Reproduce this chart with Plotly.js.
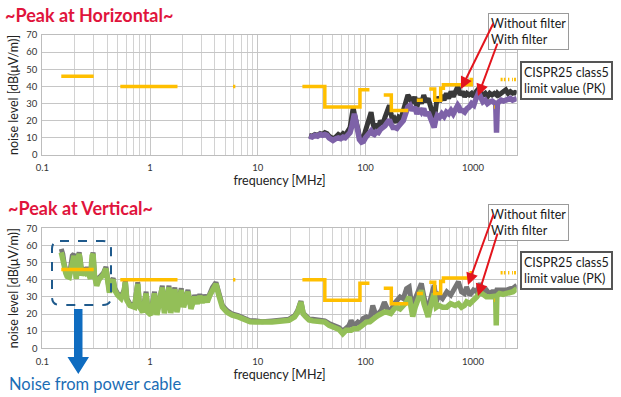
<!DOCTYPE html>
<html><head><meta charset="utf-8">
<script src="https://cdn.plot.ly/plotly-3.0.1.min.js"></script>
<style>html,body{margin:0;padding:0;background:#fff}#chart{width:621px;height:397px}</style>
</head><body><div id="chart"></div><script>
// ---- data ----
const xTickVals = [0.1, 1, 10, 100, 1000];
const xTickText = ['0.1', '1', '10', '100', '1000'];
const yTickVals = [0, 10, 20, 30, 40, 50, 60, 70];

// Horizontal polarization
const topFreq = [30,32,34,36,38,40,42,44,46,48,50,53,56,59,62,65,68,72,75,77,79,82,85,88,92,96,100,105,110,113,117,121,126,132,138,145,152,160,167,173,180,188,196,204,214,225,236,248,260,273,287,301,316,332,348,365,383,402,422,435,448,465,488,512,538,565,593,623,654,687,721,740,757,795,835,877,921,967,1015,1066,1119,1150,1175,1234,1296,1360,1428,1500,1575,1620,1650,1680,1737,1824,1915,2011,2111,2217,2328,2444,2550];
const topWithout = [11.5,11,12,11.5,12.5,12,13,12.5,11,10,9.5,10.5,12,11,12.5,11.5,13,16,23,27.5,24,18,14,11,9,10,14,18,22,25,19,15,18,16,20,18,22,26,29,24,19,21,19,22,21,26,30,35,33,30,34,28,33,30,35,31,33,29,24,20,27,34,31,35,32,36,33,37,34,37,40,38,35,37,34,36,35,36,34,37,38.5,37,36,35,36,34,36,35,36,35,35,36,35,36,37,38,36,37,36,36.5,36];
const topWith = [11,10.5,11.5,11,12,11.5,12,11.5,10,9,8.5,9.5,10,9.5,10.5,10,11,13,17,22,24,19,13,9,7.5,8,10,12,13,14,12.5,12,13.5,13,15,16,17,19,20.5,18,16,16,15.5,17,18,20,24,28,29,26,28,24,27,25,27,23,25,21,18,16,20,23,22,24,22.5,25,24,26,24,27,29,28,26,26,25,27,28,30,29,33,36,35,33,31,32,30,31,31.5,30.5,31,13,30,31,32,31.5,32,32.5,33,32,33,33];

// Vertical polarization
const botFreq = [0.15,0.155,0.16,0.165,0.17,0.178,0.185,0.19,0.197,0.203,0.207,0.212,0.22,0.226,0.232,0.24,0.25,0.26,0.27,0.28,0.29,0.296,0.305,0.32,0.335,0.35,0.37,0.39,0.405,0.42,0.44,0.455,0.47,0.5,0.54,0.575,0.59,0.61,0.65,0.72,0.77,0.8,0.86,0.92,0.96,1.02,1.1,1.16,1.3,1.36,1.5,1.56,1.7,1.78,1.95,2.05,2.25,2.4,2.6,2.75,2.9,3.05,3.2,3.4,3.6,3.8,4.1,4.35,4.7,5.2,5.8,6.6,7.5,8.5,9.5,11,13.6,16,19.5,22,23.5,25.2,26.5,28,30,32.5,37,42,46,52,57,61.6,66,70,73.7,78,85,90,95,102,110,117,124,132,140,150,160,172,185,194,210,225,241,255,266,275,290,310,331,350,370,383,400,420,435,455,480,520,570,620,680,730,780,830,870,930,1008,1080,1160,1250,1330,1410,1500,1580,1620,1640,1660,1760,1900,2040,2200,2350,2550];
const botWithout = [58,55,49,45,43,42,48,54,55,47,41,52,56,51,43,46,45,47,45,41,55,56,43,37,41,42,44,47.5,42,33,39,41,35,32,30,34,39.5,29,26,25,38.5,25,22,33,22,20.5,33,20.5,36.5,21.5,36.5,21.5,35.5,22,35,25,34,24,31,27,31.5,27.5,31,28,32,35.5,38.5,32,25,22,20,19,17.5,16,16,15.5,16,16.5,17,19,22,27.5,20.5,19,17,17,16.5,16,14.5,13,12,10,12,13,16.3,13,15.3,14,17.3,18.3,17,25,20,20.3,22,27,23,22,26,28,30,29,34.8,35.8,27,21,29,33,37.8,30,24,19.5,28,34,36.8,27,31,29,33,31,35,38.8,33,32,35.8,31,34,33,37.8,33,34,32,33,33,33,33,34,34,33.5,34,34.8,35,36.8];
const botWith = [56,53,48,44,42,41.5,47,53,54,46,40.5,51,55,50,42.5,45,44,46,44,40.5,54,55,42.5,36.5,40,41.5,43,46.5,41,32.5,38.5,40,34,31,29,33,38.5,28,25,24,37.5,24,21,32,21,19.5,32,19.5,35.5,20.5,35.5,20.5,34.5,21,34,24,33,23,30,26,30.5,26.5,30,27,31,34.5,37.5,31,24,21,19.3,18.3,16.5,15.5,15.3,15,15.3,15.8,16.3,18.3,21,27,20,18.3,16.5,16,15.5,15.3,13.4,12,11,8.5,10.5,10.5,10.5,11.4,11.5,12.5,13.4,15.3,15.5,17.3,18,19.3,20,21.2,21,20.3,23,24,23,25,27,30,22,18.5,24,30,33.8,26,20,18.3,24,30,32,24,25,24,24,26,25,26,24,25,27,26,28,30,32.8,31,30,30,30.5,31,30.5,13.4,30.5,32,31.5,32,32.8,33,34.8];

// CISPR25 class5 peak limit (gaps = null)
const limitFreq = [0.15,0.3,null,0.53,1.8,null,5.9,6.2,null,26,42,42,89,89,109,null,148,174,174,250,null,300,342,null,392,440,440,500,500,530,530,960,960,1000,null,1560,1590,null,1800,1880,null,1930,2000,null,2110,2170,null,2300,2345,null,2400,2500];
const limitVal  = [46,46,null,40,40,null,40,40,null,40,40,28,28,38,38,null,35,35,26,26,null,32,32,null,38.5,38.5,32,32,39,39,41,41,44,44,null,28,28,null,44,44,null,44,44,null,44,44,null,44,44,null,44,44];

// ---- layout helpers ----
const W = 621, H = 397;
const px = x => x / W;
const py = y => 1 - y / H;
const FONT = 'Lato, "Noto Sans", sans-serif';
const GRID = '#c6c6c6';

function xAxis(anchor) {
  return {
    type: 'log', range: [-1, Math.log10(2540)], domain: [px(42.3), px(516.7)], anchor: anchor,
    tickmode: 'array', tickvals: xTickVals, ticktext: xTickText,
    showgrid: true, gridcolor: GRID, gridwidth: 1,
    minor: {showgrid: true, gridcolor: '#d2d2d2', gridwidth: 1, dtick: 'D1', ticks: ''},
    showline: true, linecolor: '#bdbdbd', linewidth: 1, mirror: true,
    ticks: '', zeroline: false, automargin: false, ticklabelstandoff: 4,
    tickfont: {family: FONT, size: 9.5, color: '#333'},
    title: {text: 'frequency [MHz]', font: {family: FONT, size: 12.5, color: '#222'}, standoff: 2}
  };
}
function yAxis(anchor, d0, d1) {
  return {
    range: [0, 70], domain: [d0, d1], anchor: anchor,
    tickmode: 'array', tickvals: yTickVals,
    showgrid: true, gridcolor: GRID, gridwidth: 1,
    showline: true, linecolor: '#bdbdbd', linewidth: 1, mirror: true,
    ticks: '', zeroline: false, automargin: false, ticklabelstandoff: 2,
    tickfont: {family: FONT, size: 9.5, color: '#333'},
    title: {text: 'noise level [dB(μV/m)]', font: {family: FONT, size: 12.5, color: '#222'}, standoff: 4}
  };
}

const traces = [
  {x: topFreq, y: topWithout, xaxis: 'x', yaxis: 'y', mode: 'lines', name: 'Without filter',
   line: {color: '#383838', width: 5}},
  {x: topFreq, y: topWith, xaxis: 'x', yaxis: 'y', mode: 'lines', name: 'With filter',
   line: {color: '#7e62a8', width: 5.5}},
  {x: limitFreq, y: limitVal, xaxis: 'x', yaxis: 'y', mode: 'lines', name: 'CISPR25 class5 limit value (PK)',
   connectgaps: false, line: {color: '#ffbf00', width: 3.5}},
  {x: botFreq, y: botWithout, xaxis: 'x2', yaxis: 'y2', mode: 'lines', name: 'Without filter',
   line: {color: '#767676', width: 5}},
  {x: botFreq, y: botWith, xaxis: 'x2', yaxis: 'y2', mode: 'lines', name: 'With filter',
   line: {color: '#93bf58', width: 5.5}},
  {x: limitFreq, y: limitVal, xaxis: 'x2', yaxis: 'y2', mode: 'lines', name: 'CISPR25 class5 limit value (PK)',
   connectgaps: false, line: {color: '#ffbf00', width: 3.5}}
];

function boxAnn(text, x, y, border, bw) {
  return {text: text, xref: 'paper', yref: 'paper', x: px(x), y: py(y), xanchor: 'left', yanchor: 'top',
    showarrow: false, align: 'left', bgcolor: '#ffffff', bordercolor: border, borderwidth: bw, borderpad: 2,
    font: {family: FONT, size: 12.5, color: '#1a1a1a'}};
}
function arrowAnn(hx, hy, tx, ty) {
  return {text: '', xref: 'paper', yref: 'paper', x: px(hx), y: py(hy), ax: tx - hx, ay: ty - hy,
    showarrow: true, arrowhead: 2, arrowsize: 1.2, arrowwidth: 2, arrowcolor: '#e3151d'};
}

const annotations = [
  {text: '<b>~Peak at Horizontal~</b>', xref: 'paper', yref: 'paper', x: px(3), y: py(15), xanchor: 'left', yanchor: 'middle',
   showarrow: false, font: {family: FONT, size: 18, color: '#e0143c'}},
  {text: '<b>~Peak at Vertical~</b>', xref: 'paper', yref: 'paper', x: px(6), y: py(208), xanchor: 'left', yanchor: 'middle',
   showarrow: false, font: {family: FONT, size: 18, color: '#e0143c'}},
  boxAnn('Without filter<br>With filter', 488, 13, '#9a9a9a', 1),
  boxAnn('CISPR25 class5<br>limit value (PK)', 520, 61, '#555555', 2),
  boxAnn('Without filter<br>With filter', 488, 204, '#9a9a9a', 1),
  boxAnn('CISPR25 class5<br>limit value (PK)', 520, 251, '#555555', 2),
  arrowAnn(461, 89, 494, 22),
  arrowAnn(478, 96, 498, 42),
  arrowAnn(468, 285, 494, 213),
  arrowAnn(478, 296, 498, 232),
  {text: 'Noise from power cable', xref: 'paper', yref: 'paper', x: px(7), y: py(384), xanchor: 'left', yanchor: 'middle',
   showarrow: false, font: {family: FONT, size: 16.5, color: '#1a6db5'}}
];

function pathPx(cmds) {
  return cmds.map(c => typeof c === 'string' ? c : (px(c[0]).toFixed(5) + ',' + py(c[1]).toFixed(5))).join(' ');
}
const r = 8, bx0 = 52, bx1 = 111, by0 = 241, by1 = 305;
const roundedBox = pathPx(['M', [bx0 + r, by0], 'L', [bx1 - r, by0], 'Q', [bx1, by0], [bx1, by0 + r],
  'L', [bx1, by1 - r], 'Q', [bx1, by1], [bx1 - r, by1], 'L', [bx0 + r, by1], 'Q', [bx0, by1], [bx0, by1 - r],
  'L', [bx0, by0 + r], 'Q', [bx0, by0], [bx0 + r, by0], 'Z']);
const blueArrow = pathPx(['M', [74, 309], 'L', [82.5, 309], 'L', [82.5, 357], 'L', [89, 357], 'L', [78.3, 374],
  'L', [67.5, 357], 'L', [74, 357], 'Z']);

const shapes = [
  {type: 'path', xref: 'paper', yref: 'paper', path: roundedBox, line: {color: '#1f5a8c', width: 2, dash: 'dash'}},
  {type: 'path', xref: 'paper', yref: 'paper', path: blueArrow, fillcolor: '#0f6cc0', line: {width: 0}}
];

const layout = {
  width: W, height: H, margin: {l: 0, r: 0, t: 0, b: 0},
  paper_bgcolor: '#ffffff', plot_bgcolor: '#ffffff', showlegend: false,
  font: {family: FONT, color: '#222'},
  xaxis: xAxis('y'), yaxis: yAxis('x', py(155), py(35)),
  xaxis2: xAxis('y2'), yaxis2: yAxis('x2', py(348.3), py(228.3)),
  annotations: annotations, shapes: shapes
};

Plotly.newPlot('chart', traces, layout, {displayModeBar: false, staticPlot: true});
</script></body></html>
